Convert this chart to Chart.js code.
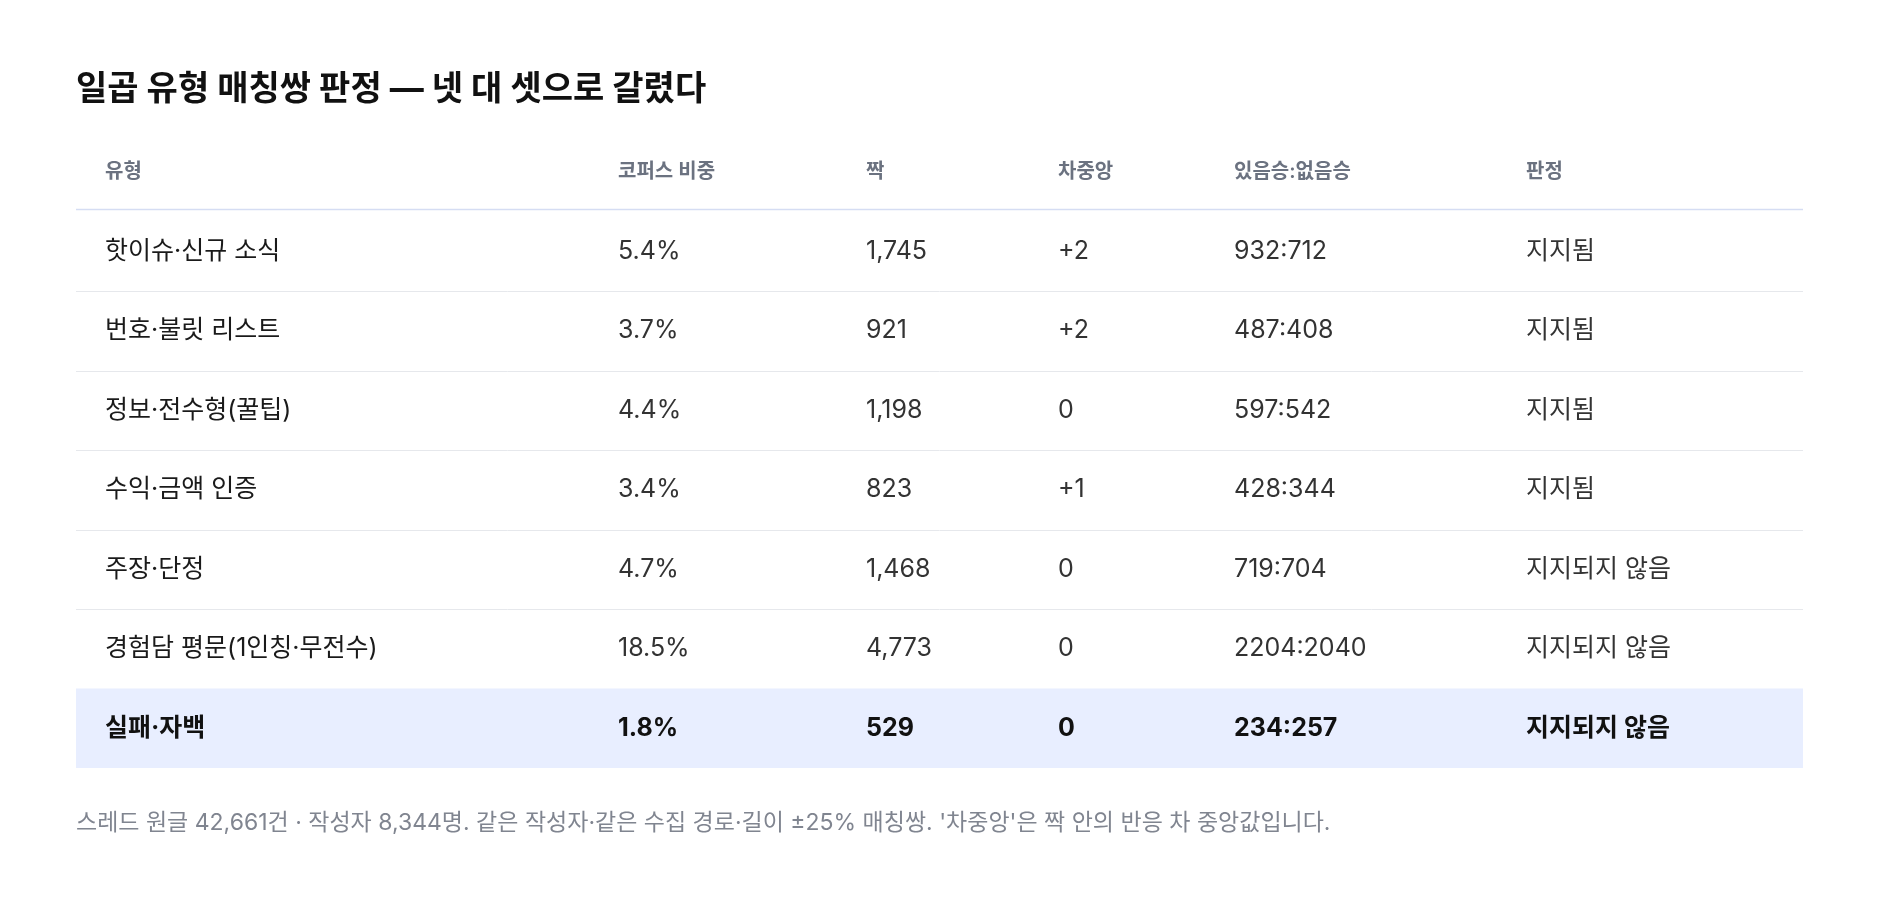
<!DOCTYPE html>
<html><head><meta charset="utf-8">
<script src="https://cdn.jsdelivr.net/npm/chart.js@4/dist/chart.umd.min.js"></script>
<style>html,body{margin:0;padding:0;background:#fff;}canvas{display:block}</style>
</head><body>
<canvas id="c" width="1880" height="904"></canvas>
<script>
const titleText = "일곱 유형 매칭쌍 판정 — 넷 대 셋으로 갈렸다";
const headers = ["유형","코퍼스 비중","짝","차중앙","있음승:없음승","판정"];
const types = ["핫이슈·신규 소식","번호·불릿 리스트","정보·전수형(꿀팁)","수익·금액 인증","주장·단정","경험담 평문(1인칭·무전수)","실패·자백"];
const shares = ["5.4%","3.7%","4.4%","3.4%","4.7%","18.5%","1.8%"];
const pairs = ["1,745","921","1,198","823","1,468","4,773","529"];
const medDiff = ["+2","+2","0","+1","0","0","0"];
const winRatio = ["932:712","487:408","597:542","428:344","719:704","2204:2040","234:257"];
const verdicts = ["지지됨","지지됨","지지됨","지지됨","지지되지 않음","지지되지 않음","지지되지 않음"];
const highlighted = [false,false,false,false,false,false,true];
const footnote = "스레드 원글 42,661건 · 작성자 8,344명. 같은 작성자·같은 수집 경로·길이 ±25% 매칭쌍. '차중앙'은 짝 안의 반응 차 중앙값입니다.";

const colX = [29, 542, 790, 982, 1158, 1450];
const F = 'Inter,"Noto Sans CJK KR","Noto Sans",sans-serif';

const tablePlugin = {
  id:'table',
  afterDraw(chart){
    const ctx = chart.ctx, xs = chart.scales.x, ys = chart.scales.y;
    const L = xs.left, R = xs.right;
    ctx.save();
    ctx.textBaseline='middle';
    ctx.fillStyle='#111'; ctx.font='bold 34px '+F; ctx.textAlign='left';
    ctx.fillText(titleText, 76, 90);
    highlighted.forEach((h,i)=>{ if(h){ const t=ys.getPixelForValue(i+0.5), b=ys.getPixelForValue(i+1.5);
      ctx.fillStyle='#e8eeff'; ctx.fillRect(L,t,R-L,b-t);} });
    ctx.font='600 20px '+F; ctx.fillStyle='#6b7280';
    headers.forEach((h,j)=>ctx.fillText(h, xs.getPixelForValue(colX[j]), ys.getPixelForValue(0)));
    ctx.strokeStyle='#d5ddf3'; ctx.lineWidth=1.5;
    let yl=Math.round(ys.getPixelForValue(0.5))-2.5;
    ctx.beginPath(); ctx.moveTo(L,yl); ctx.lineTo(R,yl); ctx.stroke();
    types.forEach((t,i)=>{
      const y=ys.getPixelForValue(i+1);
      const cells=[t,shares[i],pairs[i],medDiff[i],winRatio[i],verdicts[i]];
      ctx.font=(highlighted[i]?'bold ':'')+'25px '+F;
      cells.forEach((c,j)=>{ ctx.fillStyle = highlighted[i]?'#111':(j==0?'#1a1a1a':'#333');
        ctx.fillText(c, xs.getPixelForValue(colX[j]), y); });
      if(i<types.length-1 && !highlighted[i+1]){
        const ly=Math.round(ys.getPixelForValue(i+1.5))+0.5;
        ctx.strokeStyle='#e6e8ec'; ctx.lineWidth=1;
        ctx.beginPath(); ctx.moveTo(L,ly); ctx.lineTo(R,ly); ctx.stroke();
      }
    });
    ctx.font='23px '+F; ctx.fillStyle='#808590';
    ctx.fillText(footnote, 76, 823);
    ctx.restore();
  }
};

new Chart(document.getElementById('c'), {
  type:'scatter',
  data:{datasets:[{data:[]}]},
  options:{
    responsive:false, animation:false, devicePixelRatio:1,
    layout:{padding:{left:76,right:77,top:132,bottom:136}},
    plugins:{legend:{display:false},tooltip:{enabled:false},title:{display:false}},
    scales:{
      x:{type:'linear',min:0,max:1727,display:false},
      y:{type:'linear',min:-0.5,max:7.5,reverse:true,display:false}
    }
  },
  plugins:[tablePlugin]
});
</script>
</body></html>
